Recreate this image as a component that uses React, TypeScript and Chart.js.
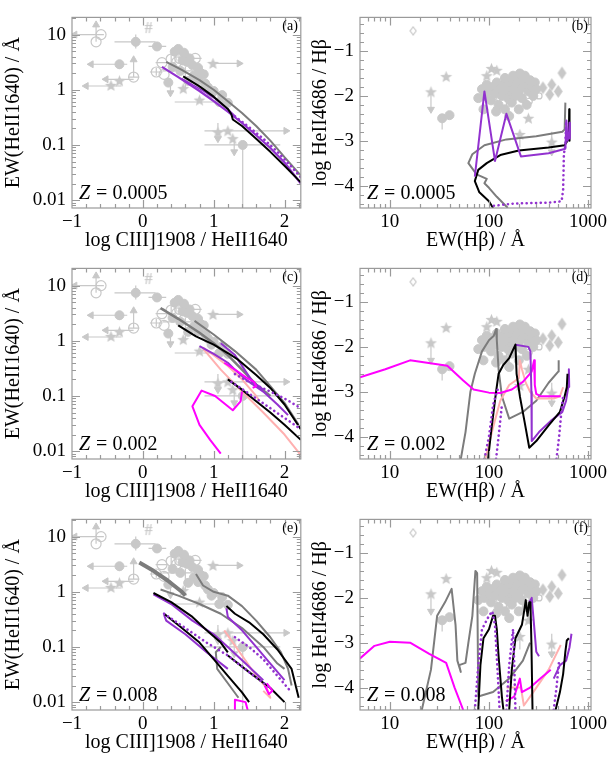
import React, { useEffect, useRef } from "react";
import { Chart, registerables } from "chart.js";
Chart.register(...registerables);

type P = [number, number];
type A = [number, number, number];

// ---------- observations, left panels: x = log CIII]1908/HeII1640, y = EW(HeII1640) [Å]
const L_FILLED: P[] = [
  [-0.10, 7.4], [0.20, 6.1], [-0.33, 2.9], [0.50, 5.5], [0.58, 4.7], [0.66, 3.7], [0.78, 2.5],
  [0.72, 1.8], [0.86, 1.9], [0.36, 1.35], [0.53, 2.2], [0.64, 1.45], [0.92, 1.1], [0.78, 1.5],
  [1.12, 0.8], [1.20, 0.58], [1.08, 0.6], [1.41, 0.1], [0.45, 4.9], [0.62, 3.2], [0.70, 2.8],
  [0.97, 0.85], [0.42, 2.6], [0.88, 1.3], [1.0, 0.95], [0.56, 3.4], [0.82, 2.0],
];
const L_OPEN: P[] = [
  [-0.66, 7.4], [-0.59, 10], [-0.13, 1.7], [0.19, 2.1], [0.27, 3.1], [0.40, 3.6], [0.52, 3.7],
  [0.74, 3.7], [0.58, 4.2], [0.30, 1.9], [0.48, 3.2],
];
const L_STARS: P[] = [
  [-0.33, 1.45], [-0.45, 1.2], [0.99, 3.0], [0.57, 1.05], [0.80, 0.65], [1.06, 0.17], [1.27, 0.13], [1.2, 0.18],
];
const L_HASH: P[] = [[0.08, 12.6]];
const L_BARS: P[][] = [
  [[-0.66, 7.4], [-0.66, 15]], [[-0.55, 10], [-0.96, 10]], [[-0.40, 7.4], [0.18, 7.4]],
  [[-0.10, 5.6], [-0.10, 10]], [[0.08, 6.1], [0.33, 6.1]], [[-0.22, 2.9], [-0.73, 2.9]],
  [[-0.33, 2.4], [-0.33, 3.4]], [[-0.13, 1.7], [-0.13, 3.5]], [[-0.13, 1.55], [-0.52, 1.55]],
  [[-0.30, 1.17], [-0.80, 1.17]], [[0.99, 3.0], [1.36, 3.0]], [[0.39, 1.35], [0.39, 0.88]],
  [[0.28, 2.2], [0.9, 2.2]], [[0.6, 1.0], [0.6, 2.6]], [[0.45, 0.6], [1.2, 0.6]],
  [[0.87, 0.18], [2.02, 0.18]], [[0.87, 0.1], [1.94, 0.1]], [[1.41, 0.1], [1.41, 0.006]],
  [[1.29, 0.13], [1.29, 0.075]], [[1.06, 0.25], [1.06, 0.13]],
  [[0.10, 2.1], [0.28, 2.1]], [[0.19, 1.8], [0.19, 2.5]], [[0.18, 3.1], [0.36, 3.1]],
  [[0.40, 3.0], [0.40, 4.3]], [[0.65, 3.7], [0.83, 3.7]], [[-0.21, 1.7], [-0.05, 1.7]],
];
const L_ARROWS: A[] = [
  [-0.66, 15, 0], [-0.96, 10, 270], [-0.73, 2.9, 270], [-0.13, 3.5, 0], [-0.52, 1.55, 270],
  [-0.80, 1.17, 270], [1.36, 3.0, 90], [0.39, 0.88, 180], [2.02, 0.18, 90], [1.29, 0.075, 180],
  [1.06, 0.13, 180],
];

// ---------- observations, right panels: x = EW(Hβ) [Å], y = log HeII4686/Hβ
const R_FILLED: P[] = [
  [78, -2.05], [85, -1.85], [90, -2.0], [95, -1.75], [100, -1.9], [105, -2.1], [110, -1.8], [115, -1.95],
  [120, -1.7], [125, -2.2], [130, -1.85], [135, -2.0], [140, -1.75], [145, -2.3], [150, -1.9], [155, -2.05],
  [160, -1.8], [165, -1.7], [170, -2.15], [175, -1.95], [180, -1.85], [185, -2.0], [190, -1.75], [195, -1.6],
  [200, -1.9], [210, -1.7], [215, -2.05], [220, -1.8], [230, -1.55], [240, -1.75], [250, -1.9], [260, -1.65],
  [270, -1.8], [280, -2.0], [290, -1.7], [300, -1.85], [88, -2.3], [118, -2.35], [160, -2.45],
  [200, -2.3], [240, -2.2], [33.7, -2.5], [40, -2.43], [205, -1.5], [225, -1.6], [175, -1.55], [145, -1.6],
];
const R_STARS: P[] = [[26, -1.91], [37, -1.57], [106, -1.39], [120, -1.43], [250, -2.5], [205, -2.86], [430, -3.03], [95, -1.55]];
const R_DIAMONDS: P[] = [[350, -1.82], [430, -1.75], [410, -1.97], [500, -1.9], [545, -1.49]];
const R_OPEN_DIAMOND: P[] = [[17.2, -0.55]];
const R_OPEN: P[] = [[320, -2.0], [255, -2.12]];
const R_BARS: P[][] = [
  [[26, -1.91], [26, -2.3]], [[33.7, -2.5], [33.7, -2.75]], [[120, -1.95], [120, -2.3]],
  [[205, -2.86], [205, -3.15]], [[430, -2.8], [430, -3.25]], [[150, -2.05], [150, -2.45]],
];
const R_ARROWS: A[] = [[26, -2.3, 180], [120, -2.3, 180], [430, -3.25, 180]];

// ---------- model tracks
const A_GREY: P[] = [[0.33, 3.2], [0.55, 2.3], [0.8, 1.5], [1.0, 1.0], [1.2, 0.62], [1.4, 0.38], [1.6, 0.22], [1.8, 0.12], [2.0, 0.06], [2.23, 0.028]];
const A_BLACK: P[] = [[0.57, 1.75], [0.8, 1.15], [1.0, 0.75], [1.2, 0.45], [1.25, 0.36], [1.27, 0.29], [1.4, 0.22], [1.6, 0.13], [1.8, 0.075], [2.0, 0.042], [2.23, 0.021]];
const A_PURPLE: P[] = [[0.27, 2.6], [0.5, 1.7], [0.8, 0.95], [1.0, 0.62], [1.2, 0.4], [1.4, 0.25], [1.6, 0.15], [1.8, 0.088], [2.0, 0.048], [2.23, 0.02]];
const A_PURPLE2: P[] = [[0.55, 1.6], [0.8, 1.05], [1.0, 0.72], [1.2, 0.45], [1.3, 0.34]];
const A_PDOT: P[] = [[1.3, 0.33], [1.5, 0.21], [1.7, 0.13], [1.9, 0.075], [2.1, 0.04], [2.23, 0.026]];

const B_GREY: P[] = [[155, -4.5], [120, -4.25], [100, -4.05], [90, -3.95], [95, -3.85], [75, -3.75], [62, -3.5], [68, -3.3], [90, -3.1], [150, -2.97], [300, -2.9], [550, -2.8], [580, -2.75], [590, -2.15]];
const B_BLACK: P[] = [[110, -4.5], [100, -4.35], [80, -4.15], [72, -3.9], [78, -3.65], [95, -3.5], [130, -3.32], [200, -3.22], [400, -3.15], [580, -3.1], [620, -3.0], [640, -2.95], [645, -2.3], [650, -3.0]];
const B_PURPLE: P[] = [[72, -3.8], [90, -1.9], [115, -3.45], [150, -2.4], [210, -3.35], [400, -3.28], [590, -3.18], [605, -2.55], [620, -3.0], [640, -2.9], [650, -2.6], [655, -2.95]];
const B_PDOT: P[] = [[112, -4.45], [180, -4.4], [400, -4.38], [540, -4.35], [560, -4.1], [570, -3.3], [590, -3.1], [600, -2.55]];

const C_GREY1: P[] = [[0.25, 3.9], [0.5, 2.5], [0.8, 1.4], [1.0, 0.9], [1.2, 0.55], [1.4, 0.3], [1.6, 0.16], [1.8, 0.1]];
const C_GREY2: P[] = [[0.73, 2.3], [1.0, 1.3], [1.3, 0.65], [1.6, 0.3], [1.8, 0.15], [2.0, 0.075], [2.2, 0.03]];
const C_BLACK1: P[] = [[0.5, 1.9], [0.75, 1.2], [1.0, 0.85], [1.2, 0.6], [1.35, 0.45], [1.6, 0.24], [1.8, 0.14], [2.0, 0.07], [2.23, 0.025]];
const C_BLACK2: P[] = [[1.2, 0.2], [1.4, 0.13], [1.6, 0.08], [1.8, 0.05], [2.0, 0.03], [2.23, 0.016]];
const C_PURPLE1: P[] = [[0.8, 0.8], [1.0, 0.58], [1.2, 0.4], [1.3, 0.3], [1.45, 0.2], [1.7, 0.12], [1.9, 0.07], [2.05, 0.045]];
const C_PURPLE2: P[] = [[1.1, 0.9], [1.3, 0.55], [1.55, 0.18], [1.7, 0.13]];
const C_PDOT1: P[] = [[1.3, 0.25], [1.5, 0.18], [1.8, 0.12], [2.0, 0.09], [2.23, 0.06]];
const C_PDOT2: P[] = [[1.25, 0.18], [1.5, 0.11], [1.8, 0.06], [2.0, 0.04], [2.23, 0.025]];
const C_PINK1: P[] = [[0.85, 0.75], [1.0, 0.55], [1.2, 0.35], [1.4, 0.2], [1.6, 0.1], [1.65, 0.08]];
const C_PINK2: P[] = [[0.85, 0.72], [1.1, 0.3], [1.4, 0.12], [1.7, 0.05], [2.0, 0.02], [2.23, 0.0085]];
const C_MAG1: P[] = [[1.1, 0.009], [0.95, 0.016], [0.8, 0.03], [0.7, 0.065], [0.83, 0.125], [1.02, 0.1], [1.27, 0.055], [1.38, 0.08], [1.4, 0.12]];
const C_MAG2: P[] = [[1.15, 0.4], [1.3, 0.3], [1.45, 0.22], [1.57, 0.18], [1.6, 0.15], [1.55, 0.14]];

const D_MAG: P[] = [[5, -2.68], [9, -2.5], [16, -2.3], [38, -2.42], [55, -2.75], [70, -2.95], [100, -3.02], [130, -3.03], [170, -2.95], [220, -2.78], [270, -2.55], [285, -2.3], [290, -2.85], [300, -3.05], [330, -3.1], [530, -3.1]];
const D_GREY: P[] = [[52, -4.5], [58, -3.9], [65, -3.0], [72, -2.6], [85, -2.1], [100, -1.85], [112, -1.75], [118, -1.6], [120, -1.85], [125, -2.5], [135, -3.1], [160, -3.6], [220, -3.45], [300, -3.2], [400, -2.8], [500, -2.55], [505, -2.3]];
const D_BLACK: P[] = [[98, -4.5], [105, -3.9], [112, -3.4], [118, -3.0], [125, -2.6], [140, -2.4], [160, -2.25], [172, -2.1], [185, -1.95], [190, -2.6], [205, -3.1], [230, -3.7], [255, -4.25], [300, -4.1], [400, -3.75], [520, -3.45], [580, -3.1], [610, -2.9], [620, -2.6]];
const D_PURPLE: P[] = [[185, -1.95], [250, -2.0], [262, -2.1], [268, -3.0], [270, -4.1], [320, -3.9], [420, -3.65], [550, -3.45], [600, -3.2], [630, -2.9], [640, -2.5], [645, -2.9]];
const D_PINK: P[] = [[92, -4.5], [110, -3.8], [130, -3.2], [160, -2.85], [200, -2.7], [205, -2.3], [215, -2.5], [235, -2.8], [260, -3.0], [300, -3.15], [450, -3.15], [520, -3.1], [560, -2.9]];
const D_PDOT1: P[] = [[90, -4.5], [100, -4.0], [110, -3.3], [120, -3.0], [125, -2.9]];
const D_PDOT2: P[] = [[118, -4.5], [125, -4.0], [135, -3.3]];
const D_PDOT3: P[] = [[480, -4.5], [510, -4.0], [540, -3.4], [560, -3.1]];

const E_GREY0: P[] = [[-0.05, 3.4], [0.15, 2.4], [0.35, 1.6], [0.55, 1.0], [0.6, 0.85]];
const E_GREY1: P[] = [[0.25, 1.1], [0.5, 0.85], [0.8, 0.6], [1.1, 0.4], [1.4, 0.22], [1.7, 0.1], [1.9, 0.05], [2.0, 0.04]];
const E_GREY2: P[] = [[0.75, 2.1], [0.85, 1.3], [1.0, 1.0], [1.2, 0.85], [1.4, 0.55], [1.6, 0.3], [1.8, 0.15], [1.95, 0.08], [2.05, 0.04], [2.1, 0.02]];
const E_GREY3: P[] = [[1.1, 0.1], [1.03, 0.08], [1.05, 0.04], [1.2, 0.022], [1.35, 0.012]];
const E_BLACK1: P[] = [[0.15, 0.95], [0.4, 0.65], [0.7, 0.35], [0.9, 0.2], [1.1, 0.12], [1.2, 0.08]];
const E_BLACK2: P[] = [[0.3, 0.4], [0.5, 0.25], [0.8, 0.12], [1.0, 0.06], [1.2, 0.03], [1.4, 0.015], [1.5, 0.01]];
const E_BLACK3: P[] = [[1.18, 0.55], [1.3, 0.4], [1.5, 0.28], [1.7, 0.17], [1.9, 0.09], [2.1, 0.04], [2.2, 0.012]];
const E_BLACK4: P[] = [[1.2, 0.07], [1.5, 0.035], [1.8, 0.018], [2.0, 0.01]];
const E_PURPLE1: P[] = [[0.15, 0.9], [0.4, 0.6], [0.7, 0.3], [1.0, 0.17], [1.2, 0.1], [1.45, 0.05], [1.7, 0.025]];
const E_PURPLE2: P[] = [[0.3, 0.38], [0.33, 0.3], [0.6, 0.17], [0.9, 0.08], [1.2, 0.04]];
const E_PURPLE3: P[] = [[1.18, 0.5], [1.2, 0.35], [1.4, 0.2], [1.6, 0.1], [1.8, 0.05], [2.0, 0.025]];
const E_PDOT1: P[] = [[0.3, 0.4], [0.6, 0.22], [0.9, 0.12], [1.2, 0.07], [1.5, 0.035], [1.8, 0.018]];
const E_PDOT2: P[] = [[1.3, 0.15], [1.5, 0.1], [1.7, 0.06], [1.9, 0.03], [2.1, 0.015]];
const E_PINK: P[] = [[1.15, 0.2], [1.4, 0.07], [1.6, 0.03], [1.75, 0.018], [1.8, 0.012], [1.7, 0.016]];
const E_MAG1: P[] = [[1.3, 0.0072], [1.3, 0.011], [1.45, 0.01], [1.48, 0.0072]];
const E_MAG2: P[] = [[1.72, 0.02], [1.78, 0.014], [1.83, 0.016], [1.75, 0.022]];

const F_MAG1: P[] = [[5, -3.35], [7, -3.07], [10, -2.98], [16, -3.0], [25, -3.25], [37, -3.45], [45, -4.0], [55, -4.5]];
const F_MAG2: P[] = [[148, -4.3], [180, -4.2], [205, -3.8], [215, -4.1], [260, -4.0], [330, -3.8], [420, -3.6]];
const F_GREY: P[] = [[21, -4.5], [26, -3.6], [30, -2.4], [36, -2.1], [42, -1.8], [46, -2.6], [48, -3.4], [52, -3.65], [50, -3.5], [58, -3.45], [62, -3.0], [68, -2.4], [73, -1.4], [76, -1.45], [78, -4.2], [110, -4.1], [160, -3.8], [220, -3.4], [260, -3.0]];
const F_BLACK1: P[] = [[78, -4.5], [82, -3.5], [88, -2.9], [100, -2.7], [110, -2.4], [115, -2.4], [120, -2.7], [125, -3.3], [135, -4.2], [140, -4.5]];
const F_BLACK2: P[] = [[160, -4.5], [170, -3.6], [185, -2.9], [215, -2.6], [230, -2.2], [235, -2.05], [245, -2.4], [255, -2.1], [262, -2.1], [268, -3.0], [275, -4.5]];
const F_BLACK3: P[] = [[470, -4.5], [520, -4.1], [560, -3.7], [590, -3.2], [610, -2.95], [640, -2.9]];
const F_PURPLE1: P[] = [[255, -2.1], [270, -2.0], [285, -2.6], [300, -3.2], [320, -3.3]];
const F_PURPLE2: P[] = [[450, -3.8], [520, -3.5], [600, -3.4], [650, -3.1], [680, -2.8]];
const F_PDOT1: P[] = [[72, -4.5], [78, -3.5], [85, -2.7], [100, -2.4], [108, -2.3], [115, -2.6], [122, -3.6], [128, -4.5]];
const F_PDOT2: P[] = [[150, -4.5], [160, -3.5], [175, -2.7], [180, -3.5], [185, -4.5]];
const F_PDOT3: P[] = [[450, -4.5], [480, -4.0], [510, -3.4]];
const F_PINK: P[] = [[150, -4.0], [210, -4.0], [225, -4.4], [280, -4.1], [400, -3.6], [530, -3.05]];

// ---------- ticks
const L_X_TICKS = [-1, 0, 1, 2];
const L_Y_TICKS = [0.01, 0.1, 1, 10];
const R_X_TICKS = [10, 100, 1000];
const R_Y_TICKS = [-4, -3, -2, -1];

// ---------- styles
const GREY = "#7c7c7c";
const BLACK = "#000000";
const PURPLE = "#9232cf";
const MAGENTA = "#ff00ff";
const PINK = "#ffb0b0";
const OBS = "#c8c8c8";
const FRAME = "#9a9a9a";
const FONT = "'Liberation Serif', 'Times New Roman', serif";
const DOT = [0.1, 4.6];

type LineSpec = { data: P[]; color: string; width?: number; dash?: number[] };
type PanelSpec = { col: 0 | 1; row: number; tag: string; z: string; lines: LineSpec[] };

const L = (data: P[], color: string, width = 2, dash?: number[]): LineSpec => ({ data, color, width, dash });

const PANELS: PanelSpec[] = [
  { col: 0, row: 0, tag: "(a)", z: "0.0005", lines: [L(A_BLACK, BLACK), L(A_PDOT, PURPLE, 2.6, DOT), L(A_PURPLE2, PURPLE, 1.3), L(A_PURPLE, PURPLE, 2.2), L(A_GREY, GREY)] },
  { col: 1, row: 0, tag: "(b)", z: "0.0005", lines: [L(B_PDOT, PURPLE, 2.6, DOT), L(B_PURPLE, PURPLE), L(B_BLACK, BLACK), L(B_GREY, GREY)] },
  { col: 0, row: 1, tag: "(c)", z: "0.002", lines: [L(C_MAG1, MAGENTA), L(C_MAG2, MAGENTA), L(C_PDOT1, PURPLE, 2.6, DOT), L(C_PDOT2, PURPLE, 2.6, DOT), L(C_BLACK1, BLACK), L(C_BLACK2, BLACK), L(C_PURPLE1, PURPLE), L(C_PURPLE2, PURPLE), L(C_GREY1, GREY, 2.5), L(C_GREY2, GREY), L(C_PINK1, PINK), L(C_PINK2, PINK)] },
  { col: 1, row: 1, tag: "(d)", z: "0.002", lines: [L(D_PDOT1, PURPLE, 2.6, DOT), L(D_PDOT2, PURPLE, 2.6, DOT), L(D_PDOT3, PURPLE, 2.6, DOT), L(D_BLACK, BLACK), L(D_PURPLE, PURPLE), L(D_MAG, MAGENTA), L(D_PINK, PINK), L(D_GREY, GREY)] },
  { col: 0, row: 2, tag: "(e)", z: "0.008", lines: [L(E_MAG1, MAGENTA), L(E_MAG2, MAGENTA), L(E_PDOT1, PURPLE, 2.6, DOT), L(E_PDOT2, PURPLE, 2.6, DOT), L(E_BLACK1, BLACK), L(E_BLACK2, BLACK), L(E_BLACK3, BLACK), L(E_BLACK4, BLACK), L(E_PURPLE1, PURPLE), L(E_PURPLE2, PURPLE), L(E_PURPLE3, PURPLE), L(E_PINK, PINK), L(E_GREY0, GREY, 4), L(E_GREY1, GREY), L(E_GREY2, GREY), L(E_GREY3, GREY)] },
  { col: 1, row: 2, tag: "(f)", z: "0.008", lines: [L(F_PDOT1, PURPLE, 2.6, DOT), L(F_PDOT2, PURPLE, 2.6, DOT), L(F_PDOT3, PURPLE, 2.6, DOT), L(F_BLACK1, BLACK), L(F_BLACK2, BLACK), L(F_BLACK3, BLACK), L(F_PURPLE1, PURPLE), L(F_PURPLE2, PURPLE), L(F_MAG1, MAGENTA), L(F_MAG2, MAGENTA), L(F_PINK, PINK), L(F_GREY, GREY)] },
];

// ---------- helpers
const xy = (d: P[]) => d.map(([x, y]) => ({ x, y }));
const segs = (s: P[][]) => {
  const out: any[] = [];
  s.forEach((seg) => { seg.forEach(([x, y]) => out.push({ x, y })); out.push({ x: null, y: null }); });
  return out;
};
const fmtLin = (v: number) => (v < 0 ? "\u2212" + Math.abs(v) : String(v));

function mk(w: number, h: number, draw: (g: CanvasRenderingContext2D) => void) {
  const c = document.createElement("canvas");
  c.width = w; c.height = h;
  draw(c.getContext("2d")!);
  return c;
}
function starImg() {
  return mk(13, 13, (g) => {
    g.fillStyle = OBS; g.beginPath();
    for (let i = 0; i < 10; i++) {
      const a = -Math.PI / 2 + (i * Math.PI) / 5;
      const r = i % 2 ? 2.7 : 6.3;
      g.lineTo(6.5 + r * Math.cos(a), 7 + r * Math.sin(a));
    }
    g.closePath(); g.fill();
  });
}
function diamondImg(w: number, h: number, filled: boolean) {
  return mk(w, h, (g) => {
    g.beginPath(); g.moveTo(w / 2, 1); g.lineTo(w - 1, h / 2); g.lineTo(w / 2, h - 1); g.lineTo(1, h / 2); g.closePath();
    if (filled) { g.fillStyle = OBS; g.fill(); } else { g.strokeStyle = OBS; g.lineWidth = 1.2; g.stroke(); }
  });
}
function hashImg() {
  return mk(14, 16, (g) => {
    g.fillStyle = OBS; g.font = "bold 16px " + FONT; g.textAlign = "center"; g.textBaseline = "middle"; g.fillText("#", 7, 8);
  });
}

function minorLog(min: number, max: number) {
  const out: number[] = [];
  for (let e = Math.floor(Math.log10(min)); e <= Math.ceil(Math.log10(max)); e++)
    for (let k = 1; k <= 9; k++) { const v = k * Math.pow(10, e); if (v >= min && v <= max) out.push(v); }
  return out;
}
function minorLin(min: number, max: number, step: number) {
  const out: number[] = [];
  for (let v = Math.ceil(min / step) * step; v <= max + 1e-9; v += step) out.push(Math.round(v * 1000) / 1000);
  return out;
}

function buildConfig(spec: PanelSpec): any {
  const isL = spec.col === 0;
  const tickFont = { family: FONT, size: 19 };
  const titleFont = { family: FONT, size: 20, lineHeight: 1 };
  const xMin = isL ? -1 : 5, xMax = isL ? 2.23 : 1070;
  const yMin = isL ? 0.0072 : -4.5, yMax = isL ? 20.5 : -0.25;
  const xMajor = isL ? L_X_TICKS : R_X_TICKS;
  const yMajor = isL ? L_Y_TICKS : R_Y_TICKS;
  const xMinor = isL ? minorLin(xMin, xMax, 0.2) : minorLog(xMin, xMax);
  const yMinor = isL ? minorLog(yMin, yMax) : minorLin(yMin, yMax, 0.2);

  const datasets: any[] = [];
  spec.lines.forEach((l) => datasets.push({
    data: xy(l.data), showLine: true, borderColor: l.color, backgroundColor: l.color,
    borderWidth: l.width ?? 2, borderDash: l.dash ?? [], borderCapStyle: l.dash ? "round" : "butt",
    borderJoinStyle: "round", pointRadius: 0, order: 1,
  }));
  const bars = isL ? L_BARS : R_BARS;
  const arrows = isL ? L_ARROWS : R_ARROWS;
  datasets.push({ data: segs(bars), showLine: true, borderColor: OBS, borderWidth: 1.2, pointRadius: 0, order: 10 });
  datasets.push({
    data: arrows.map(([x, y]) => ({ x, y })), pointStyle: "triangle", pointRadius: 4,
    rotation: arrows.map((a) => a[2]), backgroundColor: OBS, borderColor: OBS, borderWidth: 1, order: 9,
  });
  if (isL) {
    datasets.push({ data: xy(L_FILLED), pointStyle: "circle", pointRadius: 4.5, backgroundColor: OBS, borderColor: OBS, order: 8 });
    datasets.push({ data: xy(L_OPEN), pointStyle: "circle", pointRadius: 5, backgroundColor: "rgba(255,255,255,0)", borderColor: OBS, borderWidth: 1.2, order: 8 });
    datasets.push({ data: xy(L_STARS), pointStyle: starImg(), order: 8 });
    datasets.push({ data: xy(L_HASH), pointStyle: hashImg(), order: 8 });
  } else {
    datasets.push({ data: xy(R_FILLED), pointStyle: "circle", pointRadius: 4.5, backgroundColor: OBS, borderColor: OBS, order: 8 });
    datasets.push({ data: xy(R_OPEN), pointStyle: "circle", pointRadius: 3, backgroundColor: "rgba(0,0,0,0)", borderColor: OBS, borderWidth: 1.2, order: 8 });
    datasets.push({ data: xy(R_STARS), pointStyle: starImg(), order: 8 });
    datasets.push({ data: xy(R_DIAMONDS), pointStyle: diamondImg(11, 15, true), order: 8 });
    datasets.push({ data: xy(R_OPEN_DIAMOND), pointStyle: diamondImg(8, 10, false), order: 8 });
  }

  const frame = {
    id: "frame" + spec.tag,
    afterDraw(chart: any) {
      const { ctx, chartArea } = chart;
      const { left, right, top, bottom } = chartArea;
      const xs = chart.scales.x, ys = chart.scales.y;
      ctx.save();
      ctx.strokeStyle = FRAME; ctx.lineWidth = 1.2;
      ctx.strokeRect(left, top, right - left, bottom - top);
      ctx.beginPath();
      const tx = (v: number, len: number) => {
        const p = Math.round(xs.getPixelForValue(v)) + 0.5;
        if (p < left + 1 || p > right - 1) return;
        ctx.moveTo(p, bottom); ctx.lineTo(p, bottom - len); ctx.moveTo(p, top); ctx.lineTo(p, top + len);
      };
      const ty = (v: number, len: number) => {
        const p = Math.round(ys.getPixelForValue(v)) + 0.5;
        if (p < top + 1 || p > bottom - 1) return;
        ctx.moveTo(left, p); ctx.lineTo(left + len, p); ctx.moveTo(right, p); ctx.lineTo(right - len, p);
      };
      xMinor.forEach((v) => tx(v, 4)); xMajor.forEach((v) => tx(v, 8));
      yMinor.forEach((v) => ty(v, 4)); yMajor.forEach((v) => ty(v, 8));
      ctx.stroke();
      ctx.fillStyle = "#000";
      ctx.font = "14px " + FONT; ctx.textAlign = "right"; ctx.textBaseline = "alphabetic";
      ctx.fillText(spec.tag, right - 3, top + 13);
      ctx.textAlign = "left";
      ctx.font = "italic 20px " + FONT;
      const zx = left + 7, zy = bottom - 9;
      ctx.fillText("Z", zx, zy);
      const w = ctx.measureText("Z").width;
      ctx.font = "20px " + FONT;
      ctx.fillText(" = " + spec.z, zx + w + 1, zy);
      ctx.restore();
    },
  };

  const axisBase = {
    grid: { display: false, drawTicks: false },
    border: { display: false },
  };

  return {
    type: "scatter",
    data: { datasets },
    options: {
      animation: false, responsive: false, events: [],
      layout: { padding: { top: 10, right: isL ? 4 : 23, left: 0, bottom: 0 } },
      plugins: { legend: { display: false }, tooltip: { enabled: false } },
      scales: {
        x: {
          ...axisBase, type: isL ? "linear" : "logarithmic", min: xMin, max: xMax,
          afterBuildTicks: (s: any) => { s.ticks = xMajor.map((v) => ({ value: v })); },
          afterFit: (s: any) => { s.height = 43; },
          ticks: { color: "#000", font: tickFont, padding: 3, maxRotation: 0, autoSkip: false, callback: (v: any) => (isL ? fmtLin(Number(v)) : String(v)) },
          title: { display: true, text: isL ? "log CIII]1908 / HeII1640" : "EW(H\u03B2) / \u00C5", color: "#000", font: titleFont, padding: { top: 0, bottom: 0 } },
        },
        y: {
          ...axisBase, type: isL ? "logarithmic" : "linear", min: yMin, max: yMax,
          afterBuildTicks: (s: any) => { s.ticks = yMajor.map((v) => ({ value: v })); },
          afterFit: (s: any) => { s.width = isL ? 72 : 53; },
          ticks: { color: "#000", font: tickFont, padding: 6, autoSkip: false, callback: (v: any) => (isL ? String(v) : fmtLin(Number(v))) },
          title: { display: true, text: isL ? "EW(HeII1640) / \u00C5" : "log HeII4686 / H\u03B2", color: "#000", font: titleFont, padding: { top: 4, bottom: 0 } },
        },
      },
    },
    plugins: [frame],
  };
}

function Panel({ spec }: { spec: PanelSpec }) {
  const ref = useRef<HTMLCanvasElement>(null);
  useEffect(() => {
    const chart = new Chart(ref.current!, buildConfig(spec));
    return () => chart.destroy();
  }, [spec]);
  return (
    <canvas
      ref={ref}
      width={307}
      height={251}
      style={{ position: "absolute", left: spec.col === 0 ? 0 : 307, top: spec.row * 251, width: 307, height: 251 }}
    />
  );
}

export default function App() {
  return (
    <div style={{ position: "absolute", left: 0, top: 0, width: 614, height: 758, background: "#fff" }}>
      {PANELS.map((p) => <Panel key={p.tag} spec={p} />)}
    </div>
  );
}
